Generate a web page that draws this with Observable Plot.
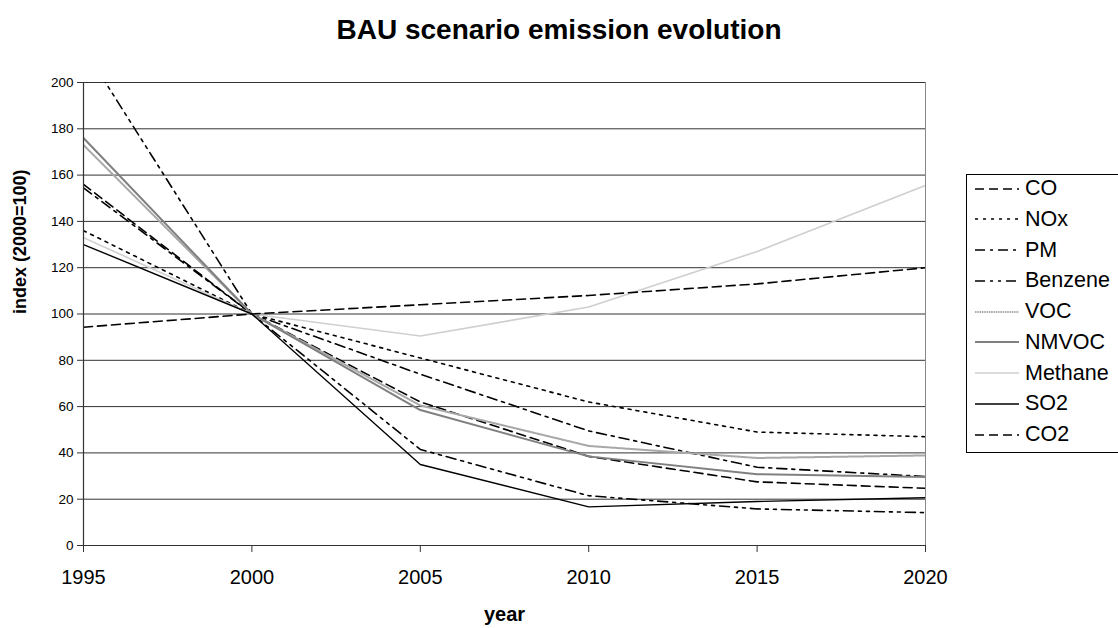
<!DOCTYPE html>
<html>
<head>
<meta charset="utf-8">
<script src="https://cdn.jsdelivr.net/npm/d3@7"></script>
<script src="https://cdn.jsdelivr.net/npm/@observablehq/plot@0.6"></script>
<style>
  html, body { margin: 0; padding: 0; background: #fff; overflow: hidden; }
  #wrap { position: relative; width: 1118px; height: 628px; font-family: "Liberation Sans", Arial, sans-serif; }
  #title { height: 50px; padding-top: 13px; line-height: 34px; text-align: center; font-weight: bold; font-size: 28px; color: #000; box-sizing: border-box; }
  #legend { position: absolute; left: 966px; top: 174px; width: 170px; height: 279px; border: 1px solid #000; box-sizing: border-box; background: #fff; }
  .lrow { position: absolute; left: 0; height: 30px; display: flex; align-items: center; }
  .lrow span { font-size: 21.5px; color: #000; margin-left: 5px; white-space: nowrap; }
</style>
</head>
<body>
<div id="wrap">
  <div id="title">BAU scenario emission evolution</div>
  <div id="chart"></div>
  <div id="legend"></div>
</div>
<script>
// ---- data ----
const years = [1995, 2000, 2005, 2010, 2015, 2020];
const yTicks = [0, 20, 40, 60, 80, 100, 120, 140, 160, 180, 200];
const seriesNames = ["CO", "NOx", "PM", "Benzene", "VOC", "NMVOC", "Methane", "SO2", "CO2"];
const CO      = [156, 100, 62, 38.5, 27.5, 24.7];
const NOx     = [136, 100, 81, 62, 49, 47];
const PM      = [154.5, 100, 74, 49.5, 33.8, 29.8];
const Benzene = [215, 100, 41.5, 21.5, 15.8, 14.2];
const VOC     = [173, 100, 60.5, 43, 37.8, 38.9];
const NMVOC   = [176, 100, 58.5, 38.5, 30.8, 29.6];
const Methane = [133, 100, 90.5, 103, 127, 155.5];
const SO2     = [130, 100, 35, 16.7, 19, 20.6];
const CO2     = [94.3, 100, 104, 108, 113, 120];
const values = { CO, NOx, PM, Benzene, VOC, NMVOC, Methane, SO2, CO2 };

// ---- styles ----
const styles = {
  CO:      { stroke: "#000", width: 1.6, dash: "9,5" },
  NOx:     { stroke: "#000", width: 1.6, dash: "3,5" },
  PM:      { stroke: "#000", width: 1.6, dash: "10,5,3,5" },
  Benzene: { stroke: "#000", width: 1.6, dash: "10,5,3,5,3,5" },
  VOC:     { stroke: "#a8a8a8", width: 2, dash: "1.5,0.8" },
  NMVOC:   { stroke: "#808080", width: 2, dash: null },
  Methane: { stroke: "#cfcfcf", width: 1.6, dash: null },
  SO2:     { stroke: "#000", width: 1.4, dash: null },
  CO2:     { stroke: "#000", width: 1.6, dash: "9,5" }
};

const lineMarks = seriesNames.map(name => {
  const rows = years.map((yr, i) => ({ year: yr, value: values[name][i] }));
  const s = styles[name];
  const opts = { x: "year", y: "value", stroke: s.stroke, strokeWidth: s.width, clip: true, strokeLinejoin: "miter" };
  if (s.dash) opts.strokeDasharray = s.dash;
  return Plot.line(rows, opts);
});

const chart = Plot.plot({
  width: 1118,
  height: 578,
  marginTop: 32,
  marginRight: 193,
  marginBottom: 83,
  marginLeft: 83,
  style: { fontFamily: "Liberation Sans, Arial, sans-serif", color: "#000", background: "#fff" },
  x: { domain: [1995, 2020], label: null },
  y: { domain: [0, 200], label: null },
  marks: [
    Plot.ruleY(yTicks.filter(v => v > 0), { stroke: "#333", strokeWidth: 1 }),
    Plot.ruleX([2020], { stroke: "#888", strokeWidth: 1 }),
    ...lineMarks,
    Plot.ruleY([0], { stroke: "#333", strokeWidth: 1.2 }),
    Plot.ruleX([1995], { stroke: "#333", strokeWidth: 1.2 }),
    Plot.axisX({ ticks: years, tickFormat: d => String(d), tickSize: 7, tickPadding: 17, fontSize: 20, label: null, stroke: "#333" }),
    Plot.axisY({ ticks: yTicks, tickSize: 6, tickPadding: 4, fontSize: 13.5, label: null, stroke: "#333" }),
    Plot.text(["year"], { frameAnchor: "bottom", dy: 75, fontWeight: "bold", fontSize: 20, fill: "#000" }),
    Plot.text(["index (2000=100)"], { frameAnchor: "left", dx: -63, rotate: -90, fontWeight: "bold", fontSize: 18, fill: "#000" })
  ]
});
document.getElementById("chart").appendChild(chart);

// ---- legend ----
const legend = d3.select("#legend");
seriesNames.forEach((name, i) => {
  const s = styles[name];
  const row = legend.append("div").attr("class", "lrow").style("top", (-1.5 + 30.75 * i) + "px");
  const svg = row.append("svg").attr("width", 46).attr("height", 12).style("margin-left", "7px");
  const ln = svg.append("line").attr("x1", 1).attr("x2", 45).attr("y1", 6).attr("y2", 6)
    .attr("stroke", s.stroke).attr("stroke-width", s.width);
  if (s.dash) ln.attr("stroke-dasharray", s.dash);
  row.append("span").text(name);
});
</script>
</body>
</html>
